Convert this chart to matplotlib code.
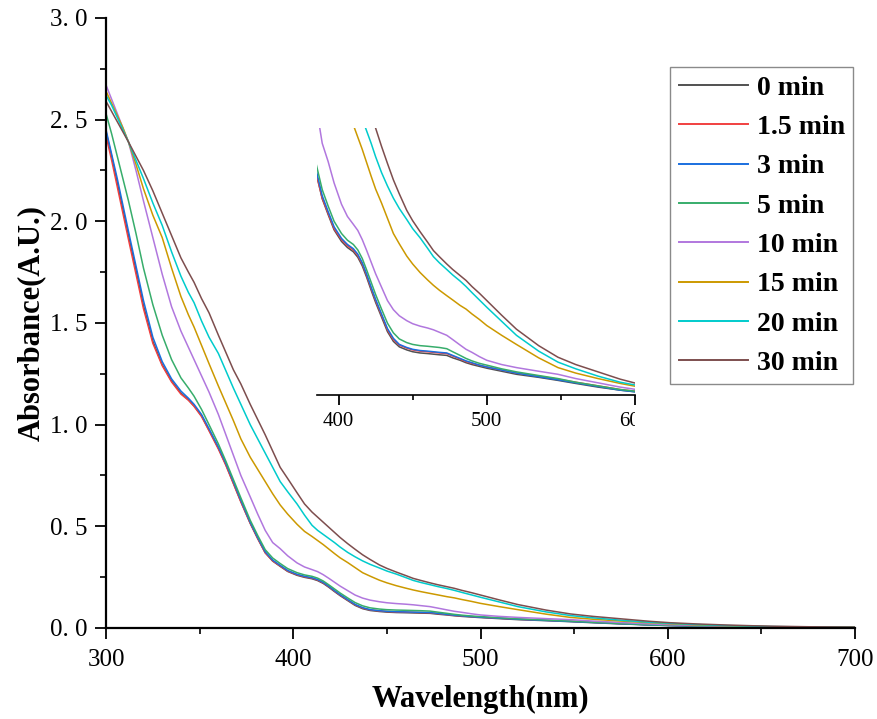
"""
UV-vis absorbance spectra over reaction time, with a zoomed inset.
"""

import matplotlib
matplotlib.use("Agg")
import matplotlib.pyplot as plt
from matplotlib.ticker import MultipleLocator, FuncFormatter
from matplotlib.transforms import Bbox, TransformedBbox

# ─── Data ────────────────────────────────────────────────────────────────────

WAVELENGTH = [300, 303, 306, 309, 312, 316, 320, 325, 330, 335,
              340, 344, 347, 351, 355, 360, 364, 368, 372, 377,
              381, 385, 389, 393, 397, 402, 406, 410, 413, 416,
              419, 422, 425, 429, 433, 437, 441, 446, 450, 455,
              460, 464, 468, 473, 477, 482, 486, 490, 495, 500,
              510, 520, 535, 548, 560, 575, 590, 601, 615, 630,
              645, 655, 675, 700]

ABS_0 = [2.44, 2.32, 2.19, 2.06, 1.93, 1.76, 1.585, 1.41, 1.295, 1.215,
         1.155, 1.122, 1.092, 1.043, 0.973, 0.884, 0.803, 0.713, 0.622, 0.515,
         0.44, 0.37, 0.329, 0.303, 0.278, 0.259, 0.249, 0.242, 0.233, 0.219,
         0.200, 0.179, 0.159, 0.135, 0.111, 0.095, 0.086, 0.081, 0.078, 0.076,
         0.075, 0.074, 0.073, 0.072, 0.068, 0.064, 0.060, 0.057, 0.054, 0.051,
         0.046, 0.041, 0.036, 0.031, 0.026, 0.020, 0.015, 0.012, 0.009, 0.007,
         0.005, 0.004, 0.003, 0.002]
ABS_1_5 = [2.42, 2.30, 2.17, 2.04, 1.91, 1.74, 1.57, 1.40, 1.29, 1.21,
           1.15, 1.12, 1.09, 1.04, 0.97, 0.88, 0.80, 0.71, 0.62, 0.515,
           0.44, 0.37, 0.33, 0.305, 0.28, 0.262, 0.252, 0.245, 0.236, 0.222,
           0.203, 0.182, 0.162, 0.138, 0.114, 0.098, 0.089, 0.084, 0.081, 0.079,
           0.078, 0.077, 0.076, 0.075, 0.071, 0.066, 0.062, 0.059, 0.056, 0.053,
           0.048, 0.043, 0.038, 0.033, 0.028, 0.022, 0.016, 0.013, 0.010, 0.008,
           0.006, 0.005, 0.003, 0.002]
ABS_3 = [2.45, 2.33, 2.21, 2.08, 1.95, 1.78, 1.61, 1.43, 1.31, 1.225,
         1.165, 1.13, 1.10, 1.05, 0.98, 0.89, 0.81, 0.72, 0.628, 0.52,
         0.445, 0.375, 0.334, 0.308, 0.283, 0.264, 0.254, 0.247, 0.238, 0.224,
         0.205, 0.184, 0.164, 0.140, 0.116, 0.100, 0.090, 0.085, 0.082, 0.080,
         0.079, 0.078, 0.077, 0.076, 0.072, 0.067, 0.063, 0.060, 0.056, 0.053,
         0.048, 0.043, 0.037, 0.032, 0.027, 0.021, 0.015, 0.012, 0.009, 0.007,
         0.005, 0.004, 0.003, 0.002]
ABS_5 = [2.53, 2.43, 2.32, 2.21, 2.10, 1.94, 1.77, 1.59, 1.44, 1.32,
         1.23, 1.18, 1.14, 1.075, 1.00, 0.905, 0.82, 0.73, 0.64, 0.53,
         0.455, 0.385, 0.344, 0.317, 0.292, 0.272, 0.261, 0.254, 0.245, 0.231,
         0.212, 0.192, 0.172, 0.148, 0.125, 0.109, 0.099, 0.093, 0.090, 0.088,
         0.087, 0.086, 0.085, 0.083, 0.078, 0.072, 0.067, 0.063, 0.059, 0.056,
         0.050, 0.045, 0.039, 0.034, 0.028, 0.022, 0.016, 0.013, 0.010, 0.008,
         0.006, 0.005, 0.003, 0.002]
ABS_10 = [2.67, 2.60, 2.53, 2.46, 2.39, 2.25, 2.10, 1.92, 1.74, 1.58,
          1.46, 1.38, 1.32, 1.24, 1.16, 1.05, 0.95, 0.85, 0.75, 0.645,
          0.56, 0.48, 0.42, 0.39, 0.355, 0.32, 0.30, 0.287, 0.277, 0.262,
          0.244, 0.225, 0.206, 0.184, 0.162, 0.147, 0.137, 0.129, 0.124, 0.120,
          0.117, 0.114, 0.110, 0.105, 0.098, 0.089, 0.082, 0.077, 0.070, 0.064,
          0.057, 0.052, 0.046, 0.041, 0.034, 0.027, 0.020, 0.016, 0.012, 0.009,
          0.006, 0.005, 0.003, 0.002]
ABS_15 = [2.64, 2.58, 2.52, 2.46, 2.39, 2.28, 2.16, 2.03, 1.92, 1.77,
          1.63, 1.54, 1.48, 1.39, 1.30, 1.19, 1.105, 1.02, 0.93, 0.84,
          0.78, 0.72, 0.66, 0.605, 0.56, 0.51, 0.475, 0.45, 0.43, 0.41,
          0.388, 0.366, 0.345, 0.322, 0.297, 0.272, 0.255, 0.235, 0.222, 0.208,
          0.196, 0.187, 0.179, 0.170, 0.163, 0.154, 0.148, 0.140, 0.131, 0.121,
          0.105, 0.090, 0.068, 0.052, 0.043, 0.034, 0.026, 0.021, 0.015, 0.011,
          0.008, 0.006, 0.004, 0.003]
ABS_20 = [2.62, 2.57, 2.51, 2.45, 2.39, 2.30, 2.21, 2.09, 1.98, 1.85,
          1.73, 1.65, 1.60, 1.51, 1.43, 1.35, 1.265, 1.18, 1.10, 1.00,
          0.93, 0.86, 0.79, 0.72, 0.67, 0.61, 0.555, 0.505, 0.48, 0.46,
          0.44, 0.42, 0.398, 0.372, 0.35, 0.33, 0.313, 0.295, 0.28, 0.265,
          0.248, 0.234, 0.224, 0.213, 0.204, 0.194, 0.185, 0.175, 0.163, 0.151,
          0.128, 0.105, 0.079, 0.061, 0.050, 0.038, 0.028, 0.023, 0.017, 0.012,
          0.009, 0.007, 0.005, 0.003]
ABS_30 = [2.59, 2.54, 2.49, 2.44, 2.39, 2.32, 2.25, 2.15, 2.04, 1.93,
          1.82, 1.75, 1.70, 1.62, 1.55, 1.44, 1.355, 1.27, 1.20, 1.10,
          1.025, 0.95, 0.87, 0.79, 0.735, 0.665, 0.61, 0.57, 0.545, 0.52,
          0.495, 0.47, 0.445, 0.415, 0.387, 0.36, 0.337, 0.31, 0.293, 0.275,
          0.258, 0.244, 0.234, 0.222, 0.213, 0.203, 0.195, 0.185, 0.174, 0.162,
          0.138, 0.115, 0.088, 0.069, 0.057, 0.045, 0.033, 0.026, 0.020, 0.015,
          0.011, 0.009, 0.006, 0.004]

SERIES = [ABS_0, ABS_1_5, ABS_3, ABS_5, ABS_10, ABS_15, ABS_20, ABS_30]
LABELS = ["0 min", "1.5 min", "3 min", "5 min", "10 min", "15 min", "20 min", "30 min"]
COLORS = ["#515151", "#F14040", "#1A6FDF", "#37AD6B",
          "#B177DE", "#CC9900", "#00CBCC", "#7D4E4E"]

SERIF = "Liberation Serif"

for s in SERIES:
    assert len(s) == len(WAVELENGTH)


def style_bottom_axis(ax, tick_size, major_len, minor_len):
    for side in ("top", "right"):
        ax.spines[side].set_visible(False)
    ax.tick_params(which="both", direction="out", top=False, right=False)
    ax.tick_params(which="major", length=major_len, width=1.3,
                   labelsize=tick_size)
    ax.tick_params(which="minor", length=minor_len, width=1.2)


def main():
    fig = plt.figure(figsize=(8.77, 7.19), dpi=100)

    # ─── Main spectra ────────────────────────────────────────────────────────
    ax = fig.add_axes([0.1209, 0.1266, 0.8541, 0.8484])
    for y, lab, col in zip(SERIES, LABELS, COLORS):
        ax.plot(WAVELENGTH, y, color=col, linewidth=1.1, label=lab,
                solid_joinstyle="round")

    ax.set_xlim(300, 700)
    ax.set_ylim(0, 3.0)
    ax.xaxis.set_major_locator(MultipleLocator(100))
    ax.xaxis.set_minor_locator(MultipleLocator(50))
    ax.yaxis.set_major_locator(MultipleLocator(0.5))
    ax.yaxis.set_minor_locator(MultipleLocator(0.25))
    ax.yaxis.set_major_formatter(FuncFormatter(lambda v, p: f"{v:.1f}".replace(".", ". ")))
    style_bottom_axis(ax, 18, 8, 4)
    ax.tick_params(axis="x", which="major", pad=7)
    ax.tick_params(axis="y", which="major", pad=5)
    for s in ("left", "bottom"):
        ax.spines[s].set_linewidth(1.6)
    for lab in ax.get_xticklabels() + ax.get_yticklabels():
        lab.set_fontfamily(SERIF)

    ax.set_xlabel("Wavelength(nm)", fontsize=22, fontweight="bold",
                  fontfamily=SERIF, labelpad=10)
    ax.set_ylabel("Absorbance(A.U.)", fontsize=22, fontweight="bold",
                  fontfamily=SERIF, labelpad=3)

    leg = ax.legend(loc="upper right", bbox_to_anchor=(0.9726, 0.9068),
                    bbox_transform=fig.transFigure, borderaxespad=0,
                    fancybox=False, framealpha=1, edgecolor="#8a8a8a",
                    handlelength=2.5, handletextpad=0.3, labelspacing=0.5,
                    borderpad=0.3,
                    prop={"family": SERIF, "weight": "bold", "size": 20})
    leg.get_frame().set_linewidth(1.0)
    for line in leg.get_lines():
        line.set_linewidth(1.4)

    # ─── Inset zoom ──────────────────────────────────────────────────────────
    axin = fig.add_axes([0.3615, 0.4506, 0.3626, 0.3713])
    for y, col in zip(SERIES, COLORS):
        axin.plot(WAVELENGTH, y, color=col, linewidth=1.1,
                  solid_joinstyle="round")
    axin.set_xlim(385.5, 600)
    axin.set_ylim(0.007, 0.445)
    axin.spines["left"].set_visible(False)
    axin.set_yticks([])
    axin.xaxis.set_major_locator(MultipleLocator(100))
    axin.xaxis.set_minor_locator(MultipleLocator(50))
    style_bottom_axis(axin, 15, 7, 3.6)
    axin.tick_params(axis="x", which="major", pad=5)
    axin.spines["bottom"].set_linewidth(1.2)
    axin.patch.set_alpha(0)

    clip = TransformedBbox(Bbox([[0, -1], [1, 1]]), axin.transAxes)
    for lab in axin.get_xticklabels():
        lab.set_fontfamily(SERIF)
        lab.set_clip_box(clip)
        lab.set_clip_on(True)

    fig.savefig("out.png", dpi=100)
    plt.close(fig)


if __name__ == "__main__":
    main()
